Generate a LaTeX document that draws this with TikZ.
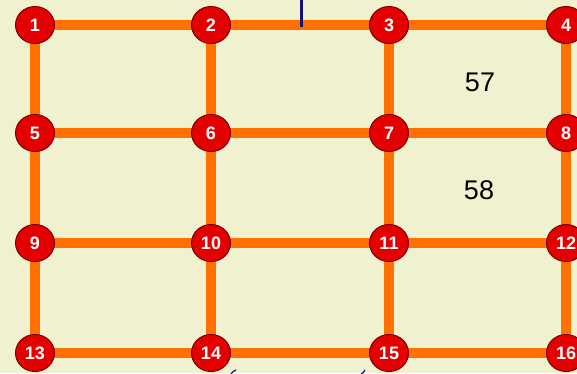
\documentclass[tikz,border=0pt]{standalone}
\usepackage{fontspec}
\setmainfont{Liberation Sans}
\usetikzlibrary{backgrounds, shapes.geometric}
\definecolor{paper}{RGB}{240,241,206}
\definecolor{pipe}{RGB}{255,112,0}
\definecolor{junction}{RGB}{228,0,0}
\definecolor{junctionrim}{RGB}{120,0,0}
\definecolor{marker}{RGB}{20,20,120}

\begin{document}
\begin{tikzpicture}[
    x=1pt, y=-1pt,
    every node/.style={font=\fontsize{27}{30}\selectfont},
    junc/.style={ellipse, draw=junctionrim, line width=1pt, fill=junction,
        minimum width=39pt, minimum height=37pt, inner sep=0pt,
        text=white, font=\fontsize{18}{18}\selectfont\bfseries},
    pipeline/.style={pipe, line width=10pt},
]
\useasboundingbox (0,0) rectangle (577,373);
% junctions, numbered row by row
\foreach \r/\yy in {0/25, 1/133, 2/243, 3/353} {
    \foreach \c/\xx in {1/35, 2/211, 3/389, 4/566} {
        \pgfmathtruncatemacro{\k}{4*\r+\c}
        \node[junc] (n\k) at (\xx,\yy) {\k};
    }
}
% block labels
\node (b57) at (480,82) {57};
\node (b58) at (479,190) {58};
% marker at the top
\coordinate (m0) at (301,0);
\coordinate (m1) at (301,27);
\draw[marker, line width=3pt] (m0) -- (m1);
% fragments at the bottom edge
\coordinate (f1) at (231,374);
\coordinate (f2) at (236,370);
\coordinate (f3) at (361,374);
\coordinate (f4) at (365,370);
\draw[marker, line width=1.2pt] (f1) to[bend left=20] (f2);
\draw[marker, line width=1.2pt] (f3) to[bend right=20] (f4);
\begin{scope}[on background layer]
\fill[paper] (0,0) rectangle (577,373);
% horizontal pipes
\foreach \a/\b in {1/2, 2/3, 3/4, 5/6, 6/7, 7/8, 9/10, 10/11, 11/12, 13/14, 14/15, 15/16}
    \draw[pipeline] (n\a.center) -- (n\b.center);
% vertical pipes
\foreach \a/\b in {1/5, 5/9, 9/13, 2/6, 6/10, 10/14, 3/7, 7/11, 11/15, 4/8, 8/12, 12/16}
    \draw[pipeline] (n\a.center) -- (n\b.center);
\end{scope}
\end{tikzpicture}
\end{document}
